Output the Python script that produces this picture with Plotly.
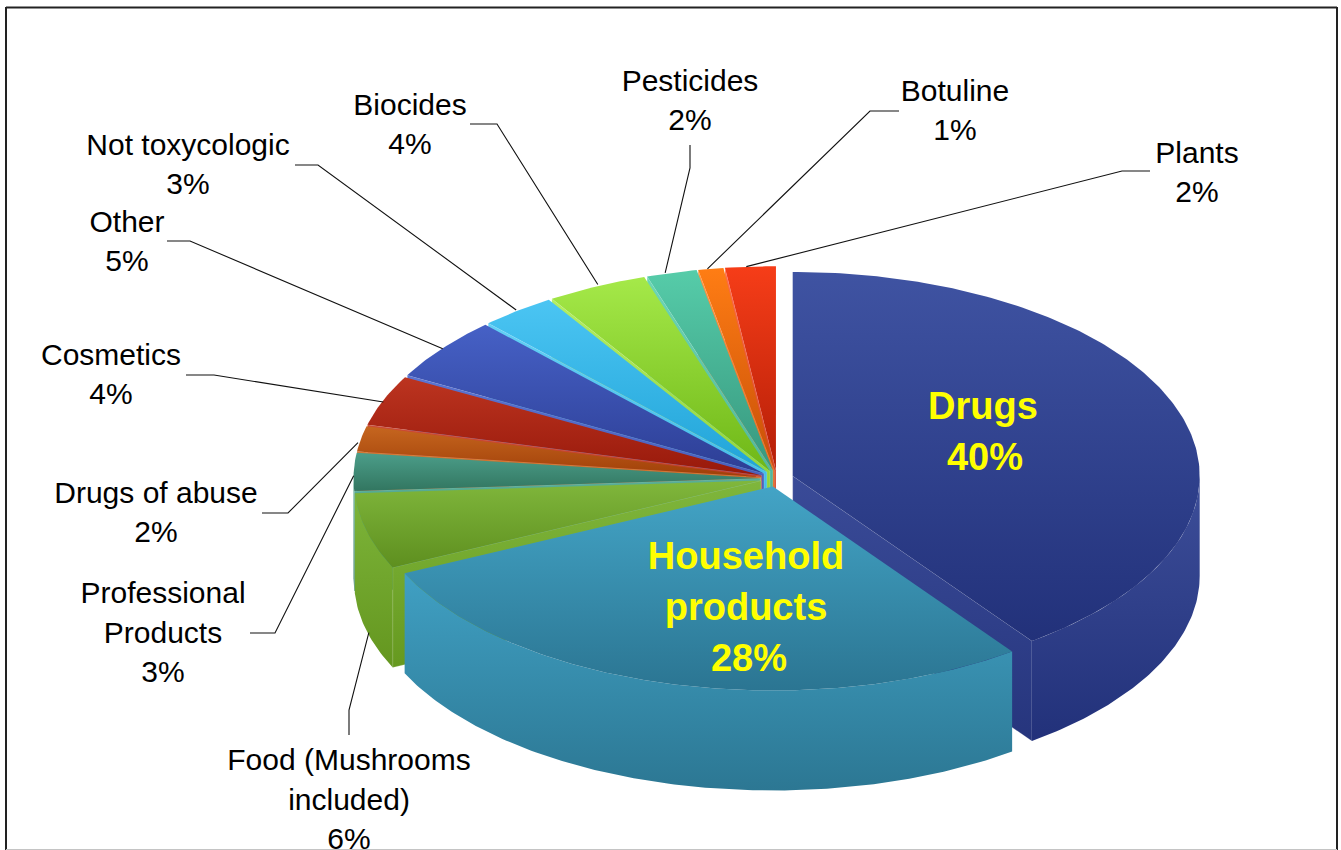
import math
import plotly.graph_objects as go

# ---- data ----
CATEGORIES = ["Drugs", "Household<br>products", "Food (Mushrooms<br>included)",
              "Professional<br>Products", "Drugs of abuse", "Cosmetics", "Other",
              "Not toxycologic", "Biocides", "Pesticides", "Botuline", "Plants"]
VALUES = [40, 28, 6, 3, 2, 4, 5, 3, 4, 2, 1, 2]

# ---- styles ----
TOP_LIGHT = ["#3f53a2", "#43a4c6", "#80b73c", "#4c9e8a", "#c6661f", "#bc3420",
             "#4661c6", "#4bc5f3", "#a5e949", "#56cca9", "#ff7d14", "#f63d18"]
TOP_DARK = ["#22317a", "#2b7592", "#5e8f1f", "#327660", "#a03f08", "#98190b",
            "#2d3e95", "#21a4d8", "#6fb717", "#37977e", "#c74f08", "#b41e07"]
SIDE_LIGHT = ["#3d4e99", "#40a0c3", "#7db53a", "#4c9e8a", "#c6661f", "#bc3420",
              "#4661c6", "#4bc5f3", "#a5e949", "#56cca9", "#ff7d14", "#f63d18"]
SIDE_DARK = ["#22317a", "#2c7793", "#64961f", "#327660", "#a03f08", "#98190b",
             "#2d3e95", "#21a4d8", "#6fb717", "#37977e", "#c74f08", "#b41e07"]
FACE_LIGHT = ["#3a4b98", "#40a0c3", "#7fb63c", "#5aae98", "#d4762f", "#cc4a36",
              "#5a74d2", "#63d0f5", "#b3ee62", "#6cd6b6", "#ff9340", "#ff6a48"]
FACE_DARK = ["#26357d", "#2c7793", "#66991f", "#3b8a72", "#ad4c12", "#a82a1a",
             "#3a4ca6", "#34b2e2", "#80c828", "#45a78d", "#d65e12", "#c42f14"]

FONT = "Liberation Sans, Arial, sans-serif"
CX, CY, RX, RY = 777.0, 478.5, 407.0, 204.0
DEPTH = 100.0
EXPLODE = 16.5
LEAD_REGULAR, LEAD_BOLD = 39.7, 51.0

# label block centres (pixels of the layout) per category
LABEL_POS = [(983, 435), (746, 610), (349, 802), (163, 635), (156, 515), (111, 377),
             (127, 244), (188, 167), (410, 127), (690, 103), (955, 113), (1197, 175)]
# horizontal shift of the percent line against the name lines
VALUE_SHIFT = [2, 3, 0, 0, 0, 0, 0, 0, 0, 0, 0, 0]
# leader routing: text end, elbow  (None for labels that sit on the slice)
LEADER_ROUTE = [None, None,
                ((349, 735), (349, 710)), ((250, 633), (275, 633)),
                ((262, 513), (288, 513)), ((186, 375), (214, 375)),
                ((167, 241), (190, 241)), ((295, 165), (318, 165)),
                ((470, 124), (497, 124)), ((690, 145), (690, 168)),
                ((899, 111), (870, 111)), ((1150, 171), (1122, 171))]
# small correction of each leader's end on the rim
LEADER_NUDGE = [None, None, (4, 1), (2, 4), (-1, 4), (2, 2), (2, 1), (0, 0),
                (2, -1), (-6, 1), (-3, 1), (-4, 1)]

total = sum(VALUES)
spans, acc = [], 0.0
for v in VALUES:
    spans.append((acc / total * 360.0, (acc + v) / total * 360.0))
    acc += v


def apex(i):
    m = math.radians(sum(spans[i]) / 2)
    return CX + EXPLODE * math.sin(m), CY - EXPLODE * 0.5 * math.cos(m)


def rim(i, deg, dz=0.0, k=1.0):
    ax, ay = apex(i)
    r = math.radians(deg)
    return ax + k * RX * math.sin(r), ay - k * RY * math.cos(r) + dz


def arc(a, b):
    n = max(2, int(abs(b - a) / 0.75) + 1)
    return [a + (b - a) * j / n for j in range(n + 1)]


traces = []


def poly(pts, light, dark, edge=None):
    xs = [p[0] for p in pts] + [pts[0][0]]
    ys = [p[1] for p in pts] + [pts[0][1]]
    line = dict(width=0.8, color=edge) if edge else dict(width=0, color="rgba(0,0,0,0)")
    traces.append(go.Scatter(
        x=xs, y=ys, mode="lines", fill="toself", line=line, hoverinfo="skip",
        fillcolor=light,
        fillgradient=dict(type="vertical", start=min(ys), stop=max(ys),
                          colorscale=[[0, light], [1, dark]])))


def face(i, deg):
    ax, ay = apex(i)
    e = rim(i, deg)
    poly([(ax, ay), e, (e[0], e[1] + DEPTH), (ax, ay + DEPTH)],
         FACE_LIGHT[i], FACE_DARK[i], "rgba(255,255,255,0.22)")


def slice_parts(i):
    a, b = spans[i]
    # radial cut faces turned to the viewer
    if math.cos(math.radians(a - 270)) > 0.02:
        face(i, a)
    if math.cos(math.radians(b - 90)) > 0.02:
        face(i, b)
    # outer wall, only where the rim faces the viewer
    lo, hi = max(a, 90.0), min(b, 270.0)
    if hi > lo:
        degs = arc(lo, hi)
        poly([rim(i, d) for d in degs] + [rim(i, d, DEPTH) for d in reversed(degs)],
             SIDE_LIGHT[i], SIDE_DARK[i])
    # top
    poly([apex(i)] + [rim(i, d) for d in arc(a, b)], TOP_LIGHT[i], TOP_DARK[i])


for i in range(len(VALUES) - 1, 1, -1):
    slice_parts(i)
slice_parts(0)
slice_parts(1)

# leaders
for i, route in enumerate(LEADER_ROUTE):
    if route is None:
        continue
    mid = sum(spans[i]) / 2
    # a front-facing slice is tied to the bottom of its wall
    anchor = rim(i, mid, DEPTH if 90 < mid < 270 else 0.0, 1.005)
    nudge = LEADER_NUDGE[i]
    traces.append(go.Scatter(x=[route[0][0], route[1][0], anchor[0] + nudge[0]],
                             y=[route[0][1], route[1][1], anchor[1] + nudge[1]],
                             mode="lines", hoverinfo="skip",
                             line=dict(color="#111111", width=1.1)))


# labels: one text point per line, so the line spacing follows the reference
def label_lines(indices, lead):
    xs, ys, ts = [], [], []
    for i in indices:
        lines = CATEGORIES[i].split("<br>") + [f"{VALUES[i]}%"]
        top = LABEL_POS[i][1] - lead * (len(lines) - 1) / 2
        for j, t in enumerate(lines):
            shift = VALUE_SHIFT[i] if j == len(lines) - 1 else 0
            xs.append(LABEL_POS[i][0] + shift)
            ys.append(top + j * lead)
            ts.append(t)
    return xs, ys, ts


xs, ys, ts = label_lines(range(2, len(VALUES)), LEAD_REGULAR)
traces.append(go.Scatter(x=xs, y=ys, text=ts, mode="text", textposition="middle center",
                         cliponaxis=False, hoverinfo="skip",
                         textfont=dict(family=FONT, size=30, color="#000000")))
xs, ys, ts = label_lines(range(0, 2), LEAD_BOLD)
traces.append(go.Scatter(x=xs, y=ys, text=[f"<b>{t}</b>" for t in ts], mode="text",
                         textposition="middle center", cliponaxis=False, hoverinfo="skip",
                         textfont=dict(family=FONT, size=38, color="#ffff00")))

fig = go.Figure(traces)
frame = dict(type="line", xref="x", yref="y")
fig.update_layout(
    width=1341, height=850, autosize=False, showlegend=False,
    margin=dict(l=0, r=0, t=0, b=0, pad=0),
    paper_bgcolor="white", plot_bgcolor="white",
    xaxis=dict(range=[0, 1341], visible=False, fixedrange=True),
    yaxis=dict(range=[850, 0], visible=False, fixedrange=True),
    shapes=[
        dict(frame, x0=6, y0=7.5, x1=1337, y1=7.5, line=dict(color="#222222", width=2)),
        dict(frame, x0=6, y0=7, x1=6, y1=850, line=dict(color="#222222", width=2)),
        dict(frame, x0=1337, y0=7, x1=1337, y1=850, line=dict(color="#222222", width=2)),
        dict(frame, x0=6, y0=849.5, x1=1337, y1=849.5, line=dict(color="#c4c4c4", width=1)),
    ],
)
fig.write_html("out.html", post_script="document.body.style.margin='0';",
               config={"displayModeBar": False})
